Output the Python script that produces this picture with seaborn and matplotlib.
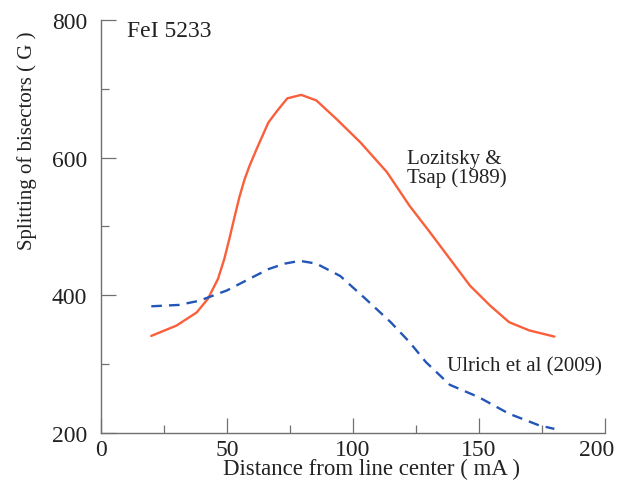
import pandas as pd
import numpy as np
import matplotlib.pyplot as plt
import seaborn as sns
from matplotlib.ticker import MultipleLocator, FuncFormatter

# ------------------------------------------------------------
# Data
# ------------------------------------------------------------
loz_x = [20, 30, 38, 42.5, 46.5, 49, 51, 53, 55, 57, 59, 62, 66.5, 70, 74, 79.5,
         85.5, 93.5, 103, 113.5, 122.5, 130.5, 138.5, 146.5, 154.5, 162, 170, 180]
loz_y = [341, 356, 375, 395, 424, 453, 482, 513, 543, 568, 588, 614, 651, 668, 686, 691,
         683, 656, 622, 579, 530, 492, 453, 414, 385, 361, 349, 340]

ulr_x = [20, 31, 39, 50, 59, 66.5, 73, 79, 85.5, 95, 105, 115, 122.5, 129,
         138.5, 150, 162, 174, 180]
ulr_y = [384, 386, 392, 407, 424, 438, 446, 450, 446, 428, 395, 361, 332, 303,
         270, 252, 228, 211, 206]

x_max = 200

loz = pd.DataFrame({"x": loz_x, "y": loz_y})
ulr = pd.DataFrame({"x": ulr_x, "y": ulr_y})

# ------------------------------------------------------------
# Plot
# ------------------------------------------------------------
sns.set_style("ticks")
plt.rcParams["font.family"] = ["Liberation Serif", "DejaVu Serif"]

fig = plt.figure(figsize=(6.19, 4.81), dpi=100)
ax = fig.add_axes([0.163, 0.0977, 0.814, 0.859])

sns.lineplot(data=loz, x="x", y="y", ax=ax, color="#fa5f3c", linewidth=1.7)
sns.lineplot(data=ulr, x="x", y="y", ax=ax, color="#2356b8", linewidth=1.7)
ax.lines[-1].set_dashes((4.5, 3))
for ln in ax.lines:
    ln.set_solid_joinstyle("round")
    ln.set_dash_joinstyle("round")

ax.set_xlim(0, x_max)
ax.set_ylim(200, 800)
ax.xaxis.set_major_locator(MultipleLocator(50))
ax.xaxis.set_minor_locator(MultipleLocator(25))
ax.yaxis.set_major_locator(MultipleLocator(200))
ax.yaxis.set_minor_locator(MultipleLocator(100))
# the last x label sits at the figure edge, it is drawn separately below
ax.xaxis.set_major_formatter(FuncFormatter(lambda v, p: "" if v >= x_max else f"{v:.0f}"))

grey = "#707070"
txt = "#222222"
for side in ["top", "right"]:
    ax.spines[side].set_visible(False)
for side in ["left", "bottom"]:
    ax.spines[side].set_color(grey)
    ax.spines[side].set_linewidth(1.0)
ax.tick_params(which="major", direction="in", length=11, width=0.9,
               color=grey, labelsize=17, labelcolor=txt)
ax.tick_params(axis="y", which="major", pad=10)
ax.tick_params(axis="x", which="major", pad=4)
ax.tick_params(which="minor", direction="in", length=6, width=0.9, color=grey)

ax.annotate(f"{x_max}", xy=(x_max, 200), xycoords="data", xytext=(-6, -4),
            textcoords="offset points", ha="center", va="top", fontsize=17,
            color=txt)

ax.set_xlabel("Distance from line center ( mA )", fontsize=16.5, color=txt)
ax.set_ylabel("Splitting of bisectors ( G )", fontsize=15, color=txt)
ax.xaxis.set_label_coords(0.538, -0.061)
ax.yaxis.set_label_coords(-0.127, 0.709)

ax.text(0.052, 0.973, "FeI 5233", transform=ax.transAxes, fontsize=17,
        va="center", ha="left", color=txt)
ax.text(121.4, 613, "Lozitsky &\nTsap (1989)", fontsize=15, va="top",
        ha="left", color=txt, linespacing=1.0)
ax.text(137.3, 297, "Ulrich et al (2009)", fontsize=15, va="center",
        ha="left", color=txt)

plt.savefig("out.png", dpi=100)
plt.close()
